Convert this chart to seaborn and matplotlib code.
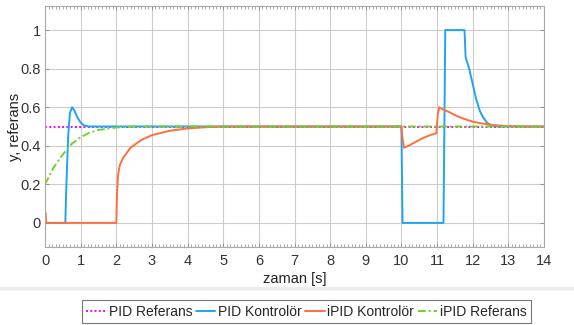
import matplotlib
matplotlib.use("Agg")
import matplotlib.pyplot as plt
from matplotlib.ticker import MultipleLocator
from matplotlib.lines import Line2D
import seaborn as sns
import pandas as pd

# ---- data ----
pid_ref_t = [0.0, 14.0]
pid_ref_y = [0.5, 0.5]

pid_t = [0.0, 0.57, 0.60, 0.65, 0.70, 0.76, 0.82, 0.90, 1.00, 1.10, 1.25,
         10.0, 10.03, 11.18, 11.23, 11.77, 11.80, 11.90, 12.0, 12.1, 12.2,
         12.3, 12.4, 12.5, 12.6, 12.8, 14.0]
pid_y = [0.0, 0.0, 0.2, 0.45, 0.57, 0.6, 0.585, 0.55, 0.52, 0.505, 0.5,
         0.5, 0.0, 0.0, 1.0, 1.0, 0.86, 0.8, 0.72, 0.64, 0.58,
         0.545, 0.52, 0.508, 0.502, 0.5, 0.5]

ipid_t = [0.0, 0.02, 0.03, 2.0, 2.02, 2.05, 2.1, 2.2, 2.4, 2.7, 3.0, 3.5,
          4.0, 4.5, 5.0, 10.0, 10.02, 10.07, 10.2, 10.4, 10.6, 10.8, 10.98,
          11.02, 11.06, 11.15, 11.35, 11.55, 11.75, 12.0, 12.25, 12.5, 12.75,
          13.0, 13.5, 14.0]
ipid_y = [0.05, 0.05, 0.0, 0.0, 0.15, 0.25, 0.3, 0.34, 0.39, 0.43, 0.455, 0.478,
          0.49, 0.496, 0.5, 0.5, 0.45, 0.39, 0.40, 0.42, 0.44, 0.455, 0.465,
          0.56, 0.6, 0.59, 0.574, 0.555, 0.54, 0.525, 0.516, 0.509, 0.505,
          0.502, 0.5, 0.5]

ipid_ref_t = [0.0, 0.25, 0.5, 0.75, 1.0, 1.25, 1.5, 2.0, 2.5, 14.0]
ipid_ref_y = [0.2, 0.29, 0.355, 0.41, 0.445, 0.468, 0.482, 0.495, 0.5, 0.5]

x_ticks = list(range(0, 15))
y_ticks = [0, 0.2, 0.4, 0.6, 0.8, 1.0]
y_tick_labels = ["0", "0.2", "0.4", "0.6", "0.8", "1"]

labels = ["PID Referans", "PID Kontrolör", "iPID Kontrolör", "iPID Referans"]
colors = ["#ff00ff", "#1ea5f2", "#ff6e3c", "#6fd22a"]

sns.set_theme(style="white")
plt.rcParams['font.family'] = ['Liberation Sans', 'DejaVu Sans']

fig = plt.figure(figsize=(5.74, 3.25), dpi=100)
ax = fig.add_axes([45/574, 1-247/325, (544-45)/574, (247-6)/325])

series = [(pid_ref_t, pid_ref_y, (0, (1, 1.2))),
          (pid_t, pid_y, "-"),
          (ipid_t, ipid_y, "-"),
          (ipid_ref_t, ipid_ref_y, (0, (4, 1.5, 1, 1.5)))]
for (t, y, ls), lab, c in zip(series, labels, colors):
    df = pd.DataFrame({"t": t, "y": y})
    sns.lineplot(data=df, x="t", y="y", ax=ax, color=c, linestyle=ls,
                 linewidth=1.4, estimator=None, sort=False, legend=False)

ax.set_xlim(0, 14)
ax.set_ylim(-0.125, 1.125)
ax.set_xticks(x_ticks)
ax.set_yticks(y_ticks)
ax.set_yticklabels(y_tick_labels)
ax.xaxis.set_minor_locator(MultipleLocator(0.1))
ax.grid(True, which="major", color="#cccccc", linewidth=0.8)
ax.tick_params(axis="both", which="both", direction="in", colors="#888888",
               labelcolor="#333333", labelsize=10.5, top=True, right=True,
               left=True, bottom=True)
ax.tick_params(axis="x", which="minor", length=2, width=0.5)
ax.tick_params(axis="both", which="major", length=3, width=0.6)
ax.tick_params(axis="y", which="major", pad=3)
ax.tick_params(axis="x", which="major", pad=5)
for s in ax.spines.values():
    s.set_color("#aaaaaa")
    s.set_linewidth(0.8)
ax.set_xlabel("zaman [s]", fontsize=10.5, color="#222222")
ax.set_ylabel("y, referans", fontsize=10.5, color="#222222")
ax.xaxis.set_label_coords(0.5, (247-272)/241)
ax.yaxis.set_label_coords((22-45)/499, 0.5)

fig.add_artist(Line2D([0, 1], [1-288/325, 1-288/325], color="#ececec",
                      linewidth=2.5, transform=fig.transFigure))

handles = [Line2D([], [], color=c, linestyle=s[2], linewidth=1.4)
           for c, s in zip(colors, series)]
leg = fig.legend(handles, labels, loc="center", ncol=4,
                 bbox_to_anchor=(306.5/574, 1-311.5/325), fontsize=10,
                 frameon=True, fancybox=False, handlelength=1.4,
                 handletextpad=0.2, columnspacing=0.25, borderpad=0.3,
                 borderaxespad=0)
leg.get_frame().set_edgecolor("#555555")
leg.get_frame().set_linewidth(0.8)

fig.savefig("out.png", dpi=100)
